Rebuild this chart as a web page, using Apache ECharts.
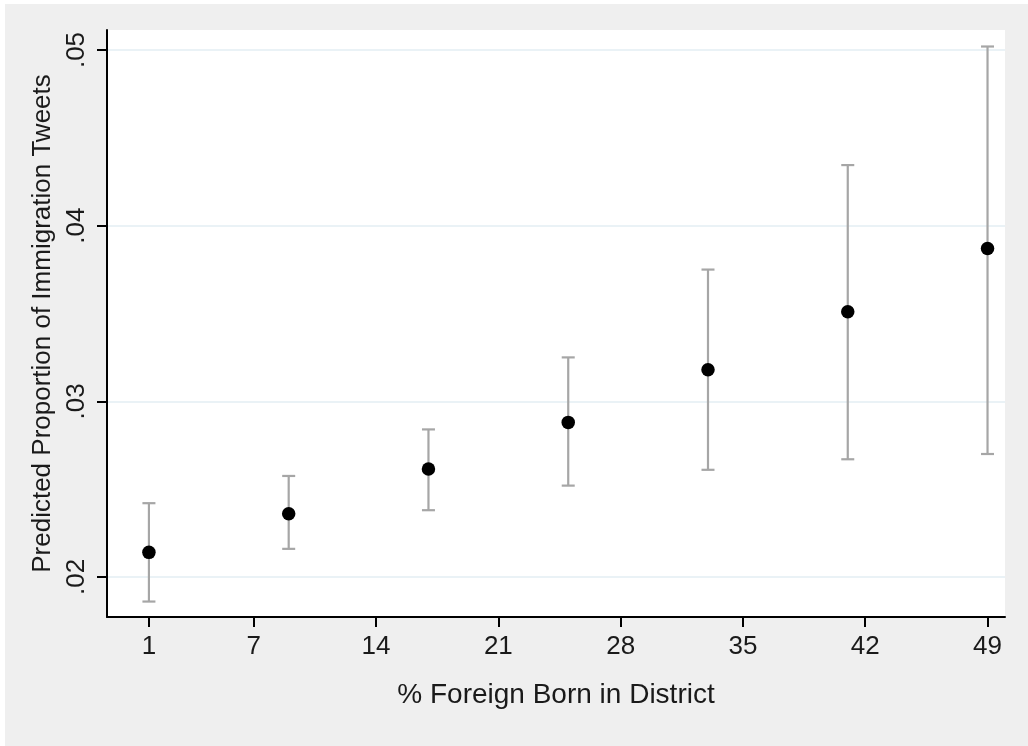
<!DOCTYPE html>
<html>
<head>
<meta charset="utf-8">
<script src="https://cdn.jsdelivr.net/npm/echarts@6/dist/echarts.min.js"></script>
<style>
html, body { margin: 0; padding: 0; background: #ffffff; width: 1028px; height: 746px; overflow: hidden; }
#chart { position: absolute; left: 5px; top: 4px; width: 1023px; height: 742px; }
</style>
</head>
<body>
<div id="chart"></div>
<script>
const xValues = [1, 9, 17, 25, 33, 41, 49];
const predicted = [0.0214, 0.0236, 0.02615, 0.0288, 0.0318, 0.0351, 0.0387];
const ciLow = [0.0186, 0.0216, 0.0238, 0.0252, 0.0261, 0.0267, 0.0270];
const ciHigh = [0.0242, 0.02575, 0.0284, 0.0325, 0.0375, 0.04345, 0.0502];
const xTicks = [1, 7, 14, 21, 28, 35, 42, 49];
const yTicks = [0.02, 0.03, 0.04, 0.05];
const xTitle = '% Foreign Born in District';
const yTitle = 'Predicted Proportion of Immigration Tweets';

const FONT = 'Liberation Sans, Arial, sans-serif';
const TXT = '#1a1a1a';

const pointData = xValues.map((x, i) => [x, predicted[i]]);
const barData = xValues.map((x, i) => [x, ciLow[i], ciHigh[i]]);

const chart = echarts.init(document.getElementById('chart'));
chart.setOption({
  backgroundColor: '#efefef',
  animation: false,
  grid: {
    left: 102, top: 26, right: 23, bottom: 129,
    show: true, backgroundColor: '#ffffff', borderWidth: 0
  },
  xAxis: {
    type: 'value',
    min: -1.4, max: 50,
    name: xTitle,
    nameLocation: 'middle',
    nameGap: 64,
    nameTextStyle: { fontFamily: FONT, fontSize: 28, color: TXT },
    axisLine: { show: true, onZero: false, lineStyle: { color: '#000', width: 2 } },
    axisTick: { show: true, length: 10, customValues: xTicks, lineStyle: { color: '#000', width: 2 } },
    axisLabel: { customValues: xTicks, margin: 17, fontFamily: FONT, fontSize: 26, color: TXT },
    splitLine: { show: false }
  },
  yAxis: {
    type: 'value',
    min: 0.01772, max: 0.05114,
    name: yTitle,
    nameLocation: 'middle',
    nameGap: 46,
    nameRotate: 90,
    nameTextStyle: { fontFamily: FONT, fontSize: 26, color: TXT },
    axisLine: { show: true, onZero: false, lineStyle: { color: '#000', width: 2 } },
    axisTick: { show: true, length: 10, customValues: yTicks, lineStyle: { color: '#000', width: 2 } },
    axisLabel: {
      customValues: yTicks, rotate: 90, margin: 17,
      fontFamily: FONT, fontSize: 26, color: TXT,
      formatter: v => v.toFixed(2).replace(/^0/, '')
    },
    splitLine: { show: true, lineStyle: { color: '#e3eef3', width: 1.5 } }
  },
  series: [
    {
      type: 'custom',
      data: barData,
      renderItem: function (params, api) {
        const x = api.value(0);
        const lo = api.coord([x, api.value(1)]);
        const hi = api.coord([x, api.value(2)]);
        const half = 6.5;
        const style = { stroke: '#a6a6a6', lineWidth: 2.2 };
        return {
          type: 'group',
          children: [
            { type: 'line', shape: { x1: lo[0], y1: lo[1], x2: hi[0], y2: hi[1] }, style: style },
            { type: 'line', shape: { x1: lo[0] - half, y1: lo[1], x2: lo[0] + half, y2: lo[1] }, style: style },
            { type: 'line', shape: { x1: hi[0] - half, y1: hi[1], x2: hi[0] + half, y2: hi[1] }, style: style }
          ]
        };
      },
      z: 2
    },
    {
      type: 'scatter',
      data: pointData,
      symbol: 'circle',
      symbolSize: 13.5,
      itemStyle: { color: '#000', opacity: 1 },
      z: 3
    }
  ]
});
</script>
</body>
</html>
